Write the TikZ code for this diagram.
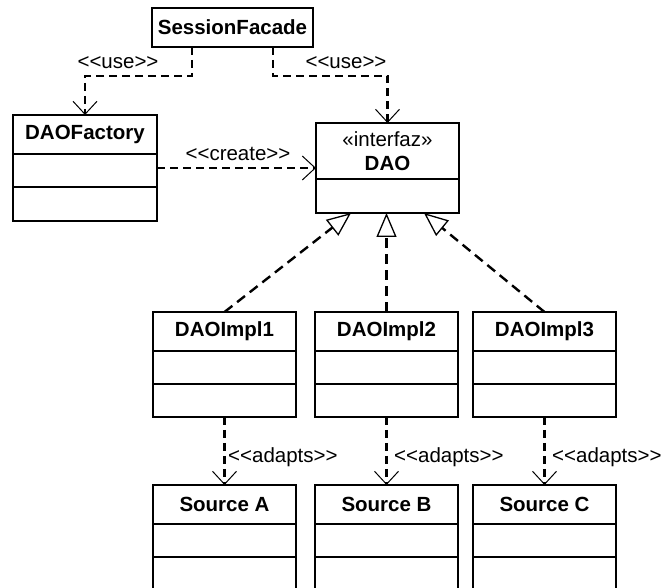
\documentclass[tikz,border=0pt]{standalone}
\usepackage{fontspec}
\setmainfont{Liberation Sans}
\usetikzlibrary{arrows.meta,calc}
\begin{document}
\begin{tikzpicture}[x=1pt,y=-1pt,
  cls/.style={draw,line width=2pt,rectangle,anchor=north west,inner sep=0pt,outer sep=0pt},
  ttl/.style={font=\fontsize{20.5}{24}\selectfont\bfseries,inner sep=0pt},
  lbl/.style={font=\fontsize{20.5}{24}\selectfont,inner sep=0pt},
  dep/.style={line width=2.2pt,dash pattern=on 8pt off 5pt,-{Straight Barb[length=13pt,width=24pt,line width=1pt]}},
  real/.style={line width=2.4pt,dash pattern=on 10pt off 6pt,-{Triangle[open,length=24pt,width=20pt,line width=1.3pt,fill=white]}},
  divl/.style={line width=2pt}
]
\useasboundingbox (0,0) rectangle (665,588);
\clip (0,0) rectangle (665,588);

% SessionFacade
\node[cls,minimum width=161pt,minimum height=39pt] (sf) at (152,8) {};
\node[ttl] (sft) at (sf.center) {SessionFacade};

% DAOFactory
\node[cls,minimum width=144pt,minimum height=106pt] (fac) at (13,115) {};
\node[ttl] (fact) at ($(fac.north)+(0,19.5)$) {DAOFactory};
\draw[divl] ([yshift=-39pt]fac.north west) -- ([yshift=-39pt]fac.north east);
\draw[divl] ([yshift=-72pt]fac.north west) -- ([yshift=-72pt]fac.north east);

% DAO
\node[cls,minimum width=143pt,minimum height=90pt] (dao) at (316,123) {};
\node[lbl] (daos) at ($(dao.north)+(0,16)$) {«interfaz»};
\node[ttl] (daot) at ($(dao.north)+(0,40)$) {DAO};
\draw[divl] ([yshift=-56pt]dao.north west) -- ([yshift=-56pt]dao.north east);

% DAOImpl boxes
\foreach \n/\x/\t in {impl1/153/DAOImpl1, impl2/315/DAOImpl2, impl3/473/DAOImpl3}{
  \node[cls,minimum width=143pt,minimum height=105pt] (\n) at (\x,312) {};
  \node[ttl] (\n t) at ($(\n.north)+(0,19.5)$) {\t};
  \draw[divl] ([yshift=-39pt]\n.north west) -- ([yshift=-39pt]\n.north east);
  \draw[divl] ([yshift=-72pt]\n.north west) -- ([yshift=-72pt]\n.north east);
}

% Source boxes
\foreach \n/\x/\t in {srca/153/Source A, srcb/315/Source B, srcc/473/Source C}{
  \node[cls,minimum width=143pt,minimum height=111pt] (\n) at (\x,485) {};
  \node[ttl] (\n t) at ($(\n.north)+(0,19.5)$) {\t};
  \draw[divl] ([yshift=-39pt]\n.north west) -- ([yshift=-39pt]\n.north east);
  \draw[divl] ([yshift=-72pt]\n.north west) -- ([yshift=-72pt]\n.north east);
}

% use dependencies
\coordinate (u1) at (192,76);
\coordinate (u2) at (273,76);
\draw[dep] (sf.south -| u1) -- (u1) -| (fac.north);
\draw[dep] (sf.south -| u2) -- (u2) -| (dao.north);
\node[lbl] (use1) at (118,63) {<{}<use>{}>};
\node[lbl] (use2) at (346,63) {<{}<use>{}>};

% create
\draw[dep] (fac.east) -- (dao.west);
\node[lbl] (crt) at (238,154) {<{}<create>{}>};

% realizations
\coordinate (r1) at ($(dao.south west)+(35,0)$);
\coordinate (r3) at ($(dao.south west)+(108,0)$);
\draw[real] (impl1.north) -- (r1);
\draw[real] (impl2.north) -- (impl2.north |- dao.south);
\draw[real] (impl3.north) -- (r3);

% adapts
\draw[dep] (impl1.south) -- (srca.north);
\draw[dep] (impl2.south) -- (srcb.north);
\draw[dep] (impl3.south) -- (srcc.north);
\node[lbl,anchor=west] (ad1) at (228,457) {<{}<adapts>{}>};
\node[lbl,anchor=west] (ad2) at (394,457) {<{}<adapts>{}>};
\node[lbl,anchor=west] (ad3) at (552,457) {<{}<adapts>{}>};
\end{tikzpicture}
\end{document}
